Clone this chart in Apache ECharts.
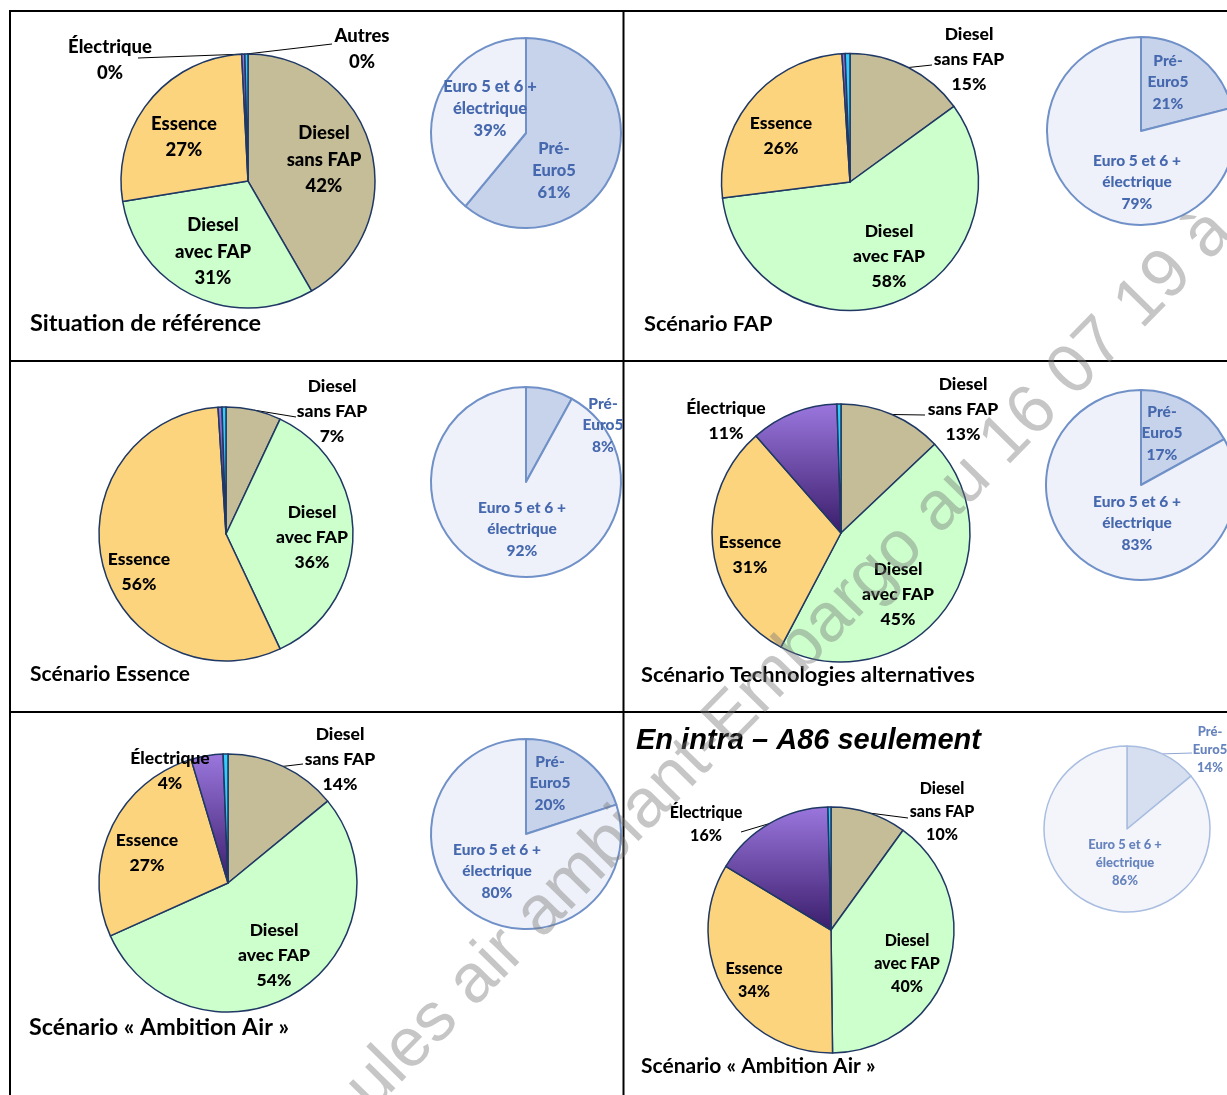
<!DOCTYPE html>
<html><head><meta charset="utf-8">
<script src="https://cdn.jsdelivr.net/npm/echarts@6/dist/echarts.min.js"></script>
<style>html,body{margin:0;padding:0;background:#fff}#c{width:1227px;height:1095px}</style>
</head><body><div id="c"></div>
<script>
// ---------------- data ----------------
const fuelCategories = ['Diesel\nsans FAP', 'Diesel\navec FAP', 'Essence', 'Électrique', 'Autres'];
const euroCategories = ['Pré-\nEuro5', 'Euro 5 et 6 +\nélectrique'];
const panelTitles = ['Situation de référence', 'Scénario FAP', 'Scénario Essence',
  'Scénario Technologies alternatives', 'Scénario « Ambition Air »', 'Scénario « Ambition Air »'];
const intraHeading = 'En intra – A86 seulement';
const watermarkText = 'ules air ambiant-Embargo au 16 07 19 à';

const fuelReference = [42, 31, 27, 0.4, 0.4];
const fuelFAP       = [15, 58, 26, 0.4, 0.6];
const fuelEssence   = [7, 36, 56, 0.5, 0.5];
const fuelTechAlt   = [13, 45, 31, 11, 0.5];
const fuelAmbition  = [14, 54, 27, 4, 0.6];
const fuelIntraA86  = [10, 40, 34, 16, 0.4];

const euroReference = [61, 39];
const euroFAP       = [21, 79];
const euroEssence   = [8, 92];
const euroTechAlt   = [17, 83];
const euroAmbition  = [20, 80];
const euroIntraA86  = [14, 86];

// ---------------- layout ----------------
const bigPies = [
  {values: fuelReference, center: [248, 181], r: 127, font: 18.5, lh: 26.5,
   labels: [{at: [324, 160]}, {at: [213, 252]}, {at: [184, 137]}, {at: [110, 60], to: [138, 58]}, {at: [362, 49], to: [332, 44]}]},
  {values: fuelFAP, center: [850, 182], r: 128.5,
   labels: [{at: [969, 59], to: [932, 65]}, {at: [889, 256]}, {at: [781, 136]}, null, null]},
  {values: fuelEssence, center: [226, 534], r: 127,
   labels: [{at: [332, 411], to: [296, 417]}, {at: [312, 537]}, {at: [139, 572]}, null, null]},
  {values: fuelTechAlt, center: [841, 533], r: 129,
   labels: [{at: [963, 409], to: [925, 415]}, {at: [898, 594]}, {at: [750, 555]}, {at: [726, 421]}, null]},
  {values: fuelAmbition, center: [228, 883], r: 129,
   labels: [{at: [340, 759], to: [303, 764]}, {at: [274, 955]}, {at: [147, 853]}, {at: [170, 771]}, null]},
  {values: fuelIntraA86, center: [831, 930], r: 123, font: 16, lh: 23,
   labels: [{at: [942, 812], to: [908, 818]}, {at: [907, 964]}, {at: [754, 980]}, {at: [706, 824], to: [741, 832]}, null]}
];
const smallPies = [
  {values: euroReference, center: [526, 133], r: 95, font: 16.5, lh: 22,
   labels: [{at: [554, 171]}, {at: [490, 109]}]},
  {values: euroFAP, center: [1141, 131], r: 94, labels: [{at: [1168, 82]}, {at: [1137, 182]}]},
  {values: euroEssence, center: [526, 482], r: 95, labels: [{at: [603, 425]}, {at: [522, 529]}]},
  {values: euroTechAlt, center: [1141, 485], r: 95, labels: [{at: [1162, 433]}, {at: [1137, 523]}]},
  {values: euroAmbition, center: [526, 834], r: 95, labels: [{at: [550, 783]}, {at: [497, 871]}]},
  {values: euroIntraA86, center: [1127, 829], r: 83, faded: true, font: 13, lh: 18,
   labels: [{at: [1210, 750], to: [1192, 753]}, {at: [1125, 863]}]}
];
const titlePos = [[30, 323, 23.5], [644, 324, 21.8], [30, 674, 21], [641, 675, 21.8], [29, 1027, 23.3], [641, 1066, 21]];

// ---------------- styles ----------------
const FONT = 'Lato';
const electricGradient = {type: 'linear', x: 0, y: 0, x2: 0, y2: 1,
  colorStops: [{offset: 0, color: '#9b77de'}, {offset: 1, color: '#3a1d6b'}]};
const fuelColors = ['#c4bd97', '#ccffcc', '#fdd47e', electricGradient, '#33ccff'];

function arcPoint(values, i, c, r) {
  const tot = values.reduce((a, b) => a + b, 0);
  let acc = 0; for (let k = 0; k < i; k++) acc += values[k];
  const a = (acc + values[i] / 2) / tot * Math.PI * 2;
  return [c[0] + r * Math.sin(a), c[1] - r * Math.cos(a)];
}

function makeSeries(cfg, names, colors, opt) {
  const data = cfg.values.map((v, i) => {
    const L = cfg.labels[i];
    return {
      name: names[i], value: v,
      itemStyle: {color: colors[i]},
      label: {show: !!L, position: (L && L.to) ? 'outside' : 'inside', width: 220, overflow: 'none'},
      labelLine: {show: !!(L && L.to)}
    };
  });
  return {
    type: 'pie', center: cfg.center, radius: cfg.r, startAngle: 90, clockwise: true,
    silent: true, avoidLabelOverlap: false, animation: false,
    itemStyle: {borderColor: opt.border, borderWidth: opt.borderWidth},
    label: {
      color: opt.textColor, fontFamily: FONT, fontWeight: 900,
      fontSize: cfg.font || opt.font, lineHeight: cfg.lh || opt.lh,
      align: 'center', textBorderWidth: 0,
      formatter: p => p.name + '\n' + Math.round(p.value) + '%'
    },
    labelLine: {lineStyle: {color: opt.lineColor, width: 1}, length: 10, length2: 10},
    labelLayout: p => {
      const L = cfg.labels[p.dataIndex];
      if (!L) return {};
      const o = {x: L.at[0], y: L.at[1], align: 'center', verticalAlign: 'middle', width: 220};
      if (L.to) {
        const s = arcPoint(cfg.values, p.dataIndex, cfg.center, cfg.r);
        o.labelLinePoints = [s, L.to, L.to];
      }
      return o;
    },
    data: data
  };
}

const series = [];
bigPies.forEach(cfg => series.push(makeSeries(cfg, fuelCategories, fuelColors,
  {border: '#1f3864', borderWidth: 1.5, textColor: '#000', font: 17.5, lh: 25, lineColor: '#000'})));
smallPies.forEach(cfg => {
  const faded = cfg.faded;
  series.push(makeSeries(cfg, euroCategories,
    faded ? ['#d6dff0', '#f3f5fb'] : ['#c7d3ea', '#eef1f9'],
    {border: faded ? '#a9bde0' : '#7090c8', borderWidth: faded ? 1.5 : 2,
     textColor: faded ? '#6683bd' : '#4668ae', font: 15.5, lh: 21.5,
     lineColor: faded ? '#8ea5d3' : '#4a6cb3'}));
});

// ---------------- graphics ----------------
const graphic = [];
const lineStyle = {stroke: '#000', lineWidth: 2};
[[10, 11, 1227, 11], [10, 361, 1227, 361], [10, 712, 1227, 712],
 [10, 10, 10, 1095], [623.5, 10, 623.5, 1095]].forEach(l =>
  graphic.push({type: 'line', shape: {x1: l[0], y1: l[1], x2: l[2], y2: l[3]}, style: lineStyle, z: 1, silent: true}));
panelTitles.forEach((t, i) => {
  const p = titlePos[i];
  graphic.push({type: 'text', x: p[0], y: p[1], z: 10, silent: true,
    style: {text: t, font: 'bold ' + p[2] + 'px ' + FONT, fill: '#000',
      textAlign: 'left', textVerticalAlign: 'middle', align: 'left', verticalAlign: 'middle'}});
});
graphic.push({type: 'text', x: 636, y: 741, z: 10, silent: true,
  style: {text: intraHeading, font: 'italic bold 29px "Liberation Sans"', fill: '#000',
    textAlign: 'left', textVerticalAlign: 'middle', align: 'left', verticalAlign: 'middle'}});
graphic.push({type: 'text', x: 790, y: 660, rotation: Math.PI / 4 + 0.008, z: 100, silent: true,
  style: {text: watermarkText, font: '69px "Liberation Sans"', fill: 'rgba(120,120,120,0.42)',
    textAlign: 'center', textVerticalAlign: 'middle', align: 'center', verticalAlign: 'middle'}});

const chart = echarts.init(document.getElementById('c'));
chart.setOption({backgroundColor: '#fff', animation: false, series: series, graphic: {elements: graphic}});
</script></body></html>
